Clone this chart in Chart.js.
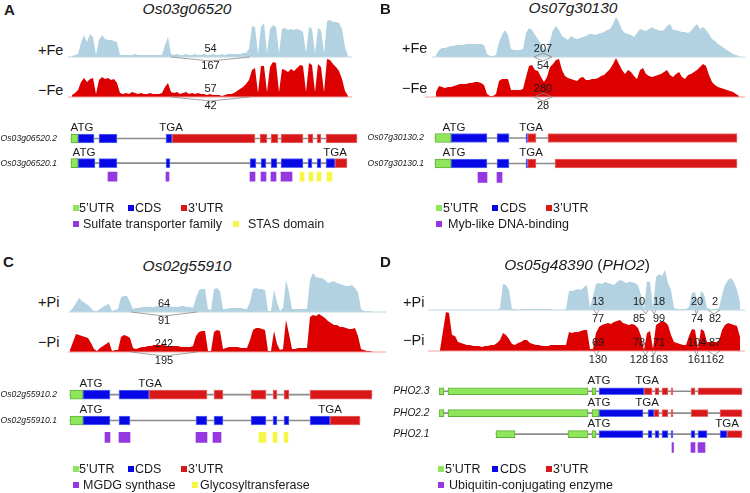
<!DOCTYPE html>
<html>
<head>
<meta charset="utf-8">
<script src="https://cdn.jsdelivr.net/npm/chart.js@4.4.1/dist/chart.umd.min.js"></script>
<style>
  html, body { margin: 0; padding: 0; background: #fff; }
  #fig { position: relative; width: 750px; height: 493px; overflow: hidden;
         font-family: 'Liberation Sans', Arial, Helvetica, sans-serif; color: #1a1a1a; }
  #fig div.t { position: absolute; white-space: nowrap; line-height: 1; }
  #fig div.sq { position: absolute; width: 6px; height: 6px; }
  canvas { position: absolute; }
</style>
</head>
<body>
<div id="fig"></div>
<script>
// ---- read depth, one value every 3 bases (bins start at the given coordinate) ----
const binStep = 3;
const binA = 72, binB = 436, binC = 70, binD = 440;

const feA_plus = [1,2,3,14,22,15,23,20,2,17, 22,18,17,17,16,15,2,2,2,2, 2,3,2,2,2,2,2,2,2,2,
  2,12,20,3,2,3,2,2,3,2, 2,3,2,2,3,2,2,3,2,2, 3,2,3,3,3,3,3,4,4,8,
  31,30,3,30,34,4,28,32,30,4, 28,29,27,28,27,28,27,25,4,30, 28,4,29,27,4,36,37,35,35,34, 28,10,1];
const feA_minus = [2,4,7,15,19,15,18,19,3,17, 20,18,19,17,18,14,4,3,4,3, 5,4,3,4,3,3,4,3,3,3,
  4,10,14,5,4,5,3,4,5,3, 4,3,4,3,3,2,3,2,2,2, 1,2,3,3,4,6,8,10,13,17,
  27,29,4,31,31,5,30,35,34,5, 28,27,25,28,26,29,32,31,5,34, 32,5,33,30,5,38,37,33,30,26, 18,6,1];

const feB_plus = [2,7,9,9,10,11,11,12,12,12, 13,13,13,13,13,13,12,3,1,1, 2,15,22,27,22,8,7,7,7,8,
  24,29,27,22,18,13,7,8,16,27, 31,27,21,19,17,21,19,18,19,20, 21,23,23,22,23,24,25,27,28,33,
  40,35,27,24,23,22,20,24,28,27, 26,28,30,28,27,26,27,31,33,27, 27,26,25,25,24,26,30,33,28,30,
  27,23,18,16,13,11,9,7,5,3, 2,1];
const feB_minus = [5,11,10,9,10,10,11,12,13,13, 13,14,14,15,15,14,12,3,1,1, 3,16,18,18,18,7,7,7,7,8,
  20,31,32,27,26,20,15,20,30,33, 37,38,27,21,19,18,17,16,19,20, 17,17,18,18,19,21,22,25,28,33,
  39,33,27,23,27,25,21,18,27,29, 23,21,20,21,22,23,25,27,22,20, 23,25,20,18,22,23,25,27,30,33,
  31,22,15,12,10,9,8,7,6,5, 3,1];

const piC_plus = [1,4,9,14,11,9,7,4,1,1, 3,5,7,8,1,2,3,15,16,16, 10,3,4,4,5,5,5,5,5,6,
  6,6,6,6,5,5,5,6,6,5, 5,4,14,22,23,23,3,2,23,24, 21,3,3,4,4,4,4,4,3,3,
  10,23,24,23,23,22,1,1,22,10, 1,4,32,20,3,3,3,3,3,3, 32,39,35,34,34,32,29,30,31,29,
  28,27,26,26,27,24,20,3,1,1, 1,0];
const piC_minus = [2,10,18,17,16,15,14,9,3,1, 4,6,8,10,1,2,2,15,17,16, 14,4,3,4,5,5,6,6,7,7,
  7,7,6,6,6,6,6,5,5,5, 5,6,16,20,21,21,1,1,20,22, 21,3,4,5,5,5,5,4,4,4,
  12,22,24,24,23,22,1,1,21,8, 2,3,32,18,3,3,4,4,4,4, 35,37,36,38,36,34,31,29,27,27,
  25,25,24,23,23,24,16,3,2,1, 1,0];

const piD_plus = [0,0,0,0,0,0,0,0,0,0, 0,0,0,0,0,0,0,0,0,0, 2,26,25,20,1,1,0,1,1,1,
  1,1,1,1,1,1,1,1,0,0, 0,0,1,19,19,20,21,20,23,25, 2,14,26,27,26,28,27,26,25,28,
  30,29,27,28,28,27,25,15,1,29, 28,2,33,36,34,40,27,20,2,1, 1,1,1,3,17,18,3,19,16,2,
  1,1,1,2,15,25,30,32,28,20, 8];
const piD_minus = [1,20,39,38,16,15,9,8,7,6, 6,5,5,5,4,5,5,6,6,8, 11,18,16,12,7,6,8,9,11,11,
  8,7,6,6,5,5,5,6,6,6, 6,6,6,19,18,19,19,20,21,21, 2,2,18,24,26,27,28,27,29,30,
  31,28,27,26,27,26,23,15,1,18, 20,2,26,28,30,29,26,16,9,8, 7,6,6,15,22,21,2,22,20,9,
  9,9,9,10,21,26,28,27,26,25, 14];

// ---- splice junctions: [donor, acceptor, upper count, lower count] ----
const juncA_plus = [[171, 250, 54, 167]];
const juncA_minus = [[171, 250, 57, 42]];
const juncB_plus = [[534, 552, 207, 54]];
const juncB_minus = [[534, 552, 280, 28]];
const juncC_plus = [[131, 197, 64, 91]];
const juncC_minus = [[131, 197, 242, 195]];
const juncD_plus = [[594, 599, 13, 77], [643, 648, 10, 85], [652, 656, 18, 99], [695, 698, 20, 74], [708, 720, 2, 82]];
const juncD_minus = [[594, 599, 69, 130], [643, 648, 78, 128], [652, 656, 71, 163], [695, 698, 104, 161], [708, 720, 87, 162]];

// ---- gene models: [start, end, transcript index] ----
const namesA = ['Os03g06520.2', 'Os03g06520.1'];
const spanA = [[71, 357, 0], [71, 347, 1]];
const utr5A = [[71, 78, 0], [71, 78, 1]];
const cdsA = [[78, 94, 0], [99, 117, 0], [166, 172, 0],
  [78, 95, 1], [99, 117, 1], [166, 170, 1], [250, 256, 1], [261, 266, 1], [271, 277, 1],
  [281, 303, 1], [308, 312, 1], [317, 321, 1], [326, 335, 1]];
const utr3A = [[172, 255, 0], [260, 267, 0], [271, 278, 0], [281, 303, 0], [308, 313, 0],
  [317, 321, 0], [326, 357, 0], [335, 347, 1]];
const sulfateA = [[108, 117], [166, 169], [250, 255], [261, 266], [271, 276], [281, 292]];
const stasA = [[300, 304], [309, 313], [317, 321], [327, 332]];
const atgA = [[82, 0], [84, 1]];
const tgaA = [[171, 0], [335, 1]];

const namesB = ['Os07g30130.2', 'Os07g30130.1'];
const spanB = [[435, 737, 0], [435, 737, 1]];
const utr5B = [[435, 451, 0], [435, 451, 1]];
const cdsB = [[451, 487, 0], [497, 509, 0], [526, 527.5, 0], [451, 487, 1], [497, 509, 1], [526, 527.5, 1]];
const utr3B = [[527.5, 536, 0], [548, 737, 0], [527.5, 536, 1], [555, 737, 1]];
const mybB = [[478, 487], [497, 502]];
const atgB = [[454, 0], [454, 1]];
const tgaB = [[531, 0], [531, 1]];

const namesC = ['Os02g55910.2', 'Os02g55910.1'];
const spanC = [[70, 372, 0], [70, 360, 1]];
const utr5C = [[70, 83, 0], [70, 83, 1]];
const cdsC = [[83, 110, 0], [119, 149, 0],
  [83, 110, 1], [119, 130, 1], [196, 207, 1], [214, 223, 1], [251, 266, 1], [273, 277, 1],
  [284, 289, 1], [310, 330, 1]];
const utr3C = [[149, 207, 0], [214, 223, 0], [251, 266, 0], [273, 277, 0], [284, 289, 0],
  [310, 372, 0], [330, 360, 1]];
const mgdgC = [[105, 110], [119, 130], [196, 207], [213, 221]];
const glycoC = [[259, 266], [273, 277], [284, 288]];
const atgC = [[91, 0], [91, 1]];
const tgaC = [[150, 0], [330, 1]];

const namesD = ['PHO2.3', 'PHO2.2', 'PHO2.1'];
const spanD = [[439, 742, 0], [439, 742, 1], [496, 742, 2]];
const utr5D = [[439, 444, 0], [448, 588, 0], [592, 596, 0],
  [439, 444, 1], [448, 588, 1], [592, 599, 1],
  [496, 515, 2], [568, 588, 2], [592, 596, 2]];
const cdsD = [[599, 644, 0], [599, 643, 1], [648, 654, 1],
  [599, 643, 2], [648, 652, 2], [655, 659, 2], [662, 668, 2], [671, 673, 2], [691, 695, 2],
  [698, 707, 2], [720, 727, 2]];
const utr3D = [[644, 652, 0], [655, 659, 0], [662, 668, 0], [671, 673, 0], [691, 695, 0], [698, 742, 0],
  [654, 659, 1], [662, 668, 1], [671, 673, 1], [691, 708, 1], [720, 742, 1], [727, 742, 2]];
const ubcD = [[672, 673.5], [691, 695], [698, 705]];
const atgD = [[599, 0], [599, 1], [599, 2]];
const tgaD = [[647, 0], [647, 1], [727, 2]];

// ---- styling ----
const FONT = "'Liberation Sans', Arial, Helvetica, sans-serif";
const COL = {
  plus: '#b3d2e1', plusBase: '#c2d8e3', minus: '#dc0000', minusBase: '#f2a0a0',
  junction: '#8a8a8a', intron: '#8c8c8c',
  utr5: '#8fe65a', utr5b: '#5fae3a', cds: '#0808e6', cdsb: '#5c6cf2',
  utr3: '#d81818', utr3b: '#ea6a6a', purple: '#9638e0', yellow: '#f6f64a'
};
Chart.defaults.font.family = FONT;
Chart.defaults.color = '#1a1a1a';

const fig = document.getElementById('fig');

function addCanvas(left, top, w, h) {
  const c = document.createElement('canvas');
  c.width = w; c.height = h;
  c.style.left = left + 'px'; c.style.top = top + 'px';
  c.style.width = w + 'px'; c.style.height = h + 'px';
  fig.appendChild(c);
  return c;
}

function text(html, x, cy, size, style) {
  const d = document.createElement('div');
  d.className = 't';
  d.innerHTML = html;
  d.style.left = x + 'px';
  d.style.top = (cy - size / 2) + 'px';
  d.style.fontSize = size + 'px';
  if (style) d.style.cssText += style;
  fig.appendChild(d);
  return d;
}

function square(color, x, cy) {
  const d = document.createElement('div');
  d.className = 'sq';
  d.style.left = x + 'px';
  d.style.top = (cy - 3) + 'px';
  d.style.background = color;
  fig.appendChild(d);
}

const baseOptions = {
  responsive: false,
  animation: false,
  events: [],
  layout: { padding: 0 },
  plugins: { legend: { display: false }, tooltip: { enabled: false } }
};

// one coverage track (sashimi style)
function coverage(x0, x1, baseline, start, values, fill, baseColor, juncs, labelX, diamond) {
  const above = 46, below = 18;
  const canvas = addCanvas(x0, baseline - above, x1 - x0, above + below);
  const datasets = [
    { data: values.map((v, i) => ({ x: start + i * binStep, y: v })),
      fill: 'origin', backgroundColor: fill, borderWidth: 0, pointRadius: 0, order: 3 },
    { data: [{ x: x0, y: 0 }, { x: x1, y: 0 }],
      borderColor: baseColor, borderWidth: 1, pointRadius: 0, fill: false, order: 2 }
  ];
  juncs.forEach(j => {
    const mid = (j[0] + j[1]) / 2;
    datasets.push({ data: [{ x: j[0], y: 0 }, { x: mid, y: -4 }, { x: j[1], y: 0 }],
      borderColor: COL.junction, borderWidth: 0.8, pointRadius: 0, fill: false, order: 1 });
    if (diamond) {
      datasets.push({ data: [{ x: j[0], y: 0 }, { x: mid, y: 4 }, { x: j[1], y: 0 }],
        borderColor: COL.junction, borderWidth: 0.8, pointRadius: 0, fill: false, order: 1 });
    }
  });
  const counts = {
    id: 'junctionCounts',
    afterDatasetsDraw(chart) {
      const { ctx, scales: { x, y } } = chart;
      const y0 = y.getPixelForValue(0);
      ctx.save();
      ctx.font = '11px ' + FONT;
      ctx.fillStyle = '#1a1a1a';
      ctx.textAlign = 'center';
      ctx.textBaseline = 'middle';
      juncs.forEach((j, i) => {
        const lx = x.getPixelForValue(labelX ? labelX[i] : (j[0] + j[1]) / 2);
        ctx.fillText(String(j[2]), lx, y0 - 8);
        ctx.fillText(String(j[3]), lx, y0 + 9);
      });
      ctx.restore();
    }
  };
  new Chart(canvas, {
    type: 'line',
    data: { datasets },
    options: Object.assign({}, baseOptions, {
      scales: {
        x: { type: 'linear', display: false, min: x0, max: x1 },
        y: { type: 'linear', display: false, min: -below, max: above }
      }
    }),
    plugins: [counts]
  });
}

// transcript models as floating horizontal bars
function genes(g) {
  const canvas = addCanvas(g.left, g.top, g.width, g.height);
  const rowOf = e => (e.length > 2 ? g.rows[e[2]] : g.domainRow);
  const bars = (list, fill, border, thick, order) => ({
    data: list.map(e => ({ x: [e[0], e[1]], y: rowOf(e) })),
    backgroundColor: fill, borderColor: border || fill, borderWidth: border ? 1 : 0,
    borderSkipped: false, barThickness: thick, grouped: false, order: order || 0
  });
  const datasets = [
    bars(g.utr5, COL.utr5, COL.utr5b, g.thick),
    bars(g.cds, COL.cds, COL.cdsb, g.thick),
    bars(g.utr3, COL.utr3, COL.utr3b, g.thick),
    bars(g.spans, COL.intron, null, 1, 5)
  ];
  g.domains.forEach(d => datasets.push(bars(d[0], d[1], null, g.domThick)));

  const codons = {
    id: 'codons',
    afterDatasetsDraw(chart) {
      const { ctx, scales: { x, y } } = chart;
      ctx.save();
      ctx.font = '11.5px ' + FONT;
      ctx.fillStyle = '#1a1a1a';
      ctx.textAlign = 'center';
      ctx.textBaseline = 'middle';
      g.atg.forEach(c => ctx.fillText('ATG', x.getPixelForValue(c[0]), y.getPixelForValue(g.rows[c[1]]) - 10.5));
      g.tga.forEach(c => ctx.fillText('TGA', x.getPixelForValue(c[0]), y.getPixelForValue(g.rows[c[1]]) - 10.5));
      ctx.restore();
    }
  };

  new Chart(canvas, {
    type: 'bar',
    data: { datasets },
    options: Object.assign({}, baseOptions, {
      indexAxis: 'y',
      scales: {
        x: { type: 'linear', display: false, min: g.areaLeft, max: g.left + g.width },
        y: {
          type: 'linear', position: 'left', reverse: true, offset: false, bounds: 'data', grace: 0,
          min: g.top, max: g.top + g.height,
          grid: { display: false, offset: false }, border: { display: false },
          afterBuildTicks: axis => { axis.ticks = g.rows.map(v => ({ value: v })); },
          afterFit: axis => { axis.width = g.areaLeft - g.left; },
          ticks: {
            autoSkip: false, padding: g.pad, color: '#1a1a1a',
            font: { size: g.nameSize, style: 'italic' },
            callback: v => g.names[g.rows.indexOf(v)]
          }
        }
      }
    }),
    plugins: [codons]
  });
}

function legend(row1y, row2y, cols, extra) {
  const base = [[COL.utr5, '5’UTR'], [COL.cds, 'CDS'], [COL.utr3, '3’UTR']];
  base.forEach((b, i) => { square(b[0], cols[i][0], row1y); text(b[1], cols[i][1], row1y, 12.5); });
  extra.forEach(e => { square(e[0], e[1], row2y); text(e[2], e[3], row2y, 12.5); });
}

// ---------------- Panel A ----------------
text('A', 4, 9, 15, 'font-weight:bold');
text('Os03g06520', 187, 9, 15.5, 'font-style:italic;transform:translateX(-50%)');
text('+Fe', 38, 50, 14.5);
text('−Fe', 38, 90, 14.5);
coverage(68, 352, 97, binA, feA_minus, COL.minus, COL.minusBase, juncA_minus);
coverage(68, 352, 57, binA, feA_plus, COL.plus, COL.plusBase, juncA_plus);
genes({ left: 0, top: 112, width: 375, height: 80, areaLeft: 68, pad: 3, nameSize: 8.6,
  rows: [135, 166], domainRow: 183, thick: 9, domThick: 9, names: namesA,
  spans: spanA, utr5: utr5A, cds: cdsA, utr3: utr3A,
  domains: [[sulfateA, COL.purple], [stasA, COL.yellow]], atg: atgA, tga: tgaA });
legend(208, 224, [[73, 79], [128, 135], [181, 188]],
  [[COL.purple, 73, 'Sulfate transporter family', 83], [COL.yellow, 233, 'STAS domain', 248]]);

// ---------------- Panel B ----------------
text('B', 380, 8, 15, 'font-weight:bold');
text('Os07g30130', 573, 8, 15.5, 'font-style:italic;transform:translateX(-50%)');
text('+Fe', 402, 48, 14.5);
text('−Fe', 402, 88, 14.5);
coverage(425, 745, 97, binB, feB_minus, COL.minus, COL.minusBase, juncB_minus, null, true);
coverage(432, 745, 57, binB, feB_plus, COL.plus, COL.plusBase, juncB_plus, null, true);
genes({ left: 360, top: 112, width: 390, height: 80, areaLeft: 434, pad: 2, nameSize: 8.6,
  rows: [135, 166], domainRow: 183, thick: 9, domThick: 10, names: namesB,
  spans: spanB, utr5: utr5B, cds: cdsB, utr3: utr3B,
  domains: [[mybB, COL.purple]], atg: atgB, tga: tgaB });
legend(208, 224, [[436, 443], [492, 500], [546, 553]],
  [[COL.purple, 436, 'Myb-like DNA-binding', 448]]);

// ---------------- Panel C ----------------
text('C', 3, 261, 15, 'font-weight:bold');
text('Os02g55910', 187, 266, 15.5, 'font-style:italic;transform:translateX(-50%)');
text('+Pi', 38, 302, 14.5);
text('−Pi', 38, 342, 14.5);
coverage(68, 386, 352, binC, piC_minus, COL.minus, COL.minusBase, juncC_minus);
coverage(68, 386, 312, binC, piC_plus, COL.plus, COL.plusBase, juncC_plus);
genes({ left: 0, top: 368, width: 375, height: 84, areaLeft: 68, pad: 3, nameSize: 8.6,
  rows: [391, 423], domainRow: 444, thick: 9, domThick: 10, names: namesC,
  spans: spanC, utr5: utr5C, cds: cdsC, utr3: utr3C,
  domains: [[mgdgC, COL.purple], [glycoC, COL.yellow]], atg: atgC, tga: tgaC });
legend(469, 485, [[73, 79], [128, 135], [181, 188]],
  [[COL.purple, 73, 'MGDG synthase', 83], [COL.yellow, 192, 'Glycosyltransferase', 200]]);

// ---------------- Panel D ----------------
const labelXD = [598, 639, 659, 697, 715];
text('D', 380, 261, 15, 'font-weight:bold');
text('<i>Os05g48390</i> (<i>PHO2</i>)', 577, 265, 15.5, 'transform:translateX(-50%)');
text('+Pi', 403, 302, 14.5);
text('−Pi', 403, 340, 14.5);
coverage(428, 745, 351, binD, piD_minus, COL.minus, COL.minusBase, juncD_minus, labelXD);
coverage(428, 745, 310, binD, piD_plus, COL.plus, COL.plusBase, juncD_plus, labelXD);
genes({ left: 375, top: 366, width: 375, height: 95, areaLeft: 439, pad: 1.5, nameSize: 10.2,
  rows: [387, 413, 438], domainRow: 454, thick: 7, domThick: 10, names: namesD,
  spans: spanD, utr5: utr5D, cds: cdsD, utr3: utr3D,
  domains: [[ubcD, COL.purple]], atg: atgD, tga: tgaD });
legend(469, 485, [[438, 445], [492, 500], [546, 553]],
  [[COL.purple, 438, 'Ubiquitin-conjugating enzyme', 449]]);
</script>
</body>
</html>
